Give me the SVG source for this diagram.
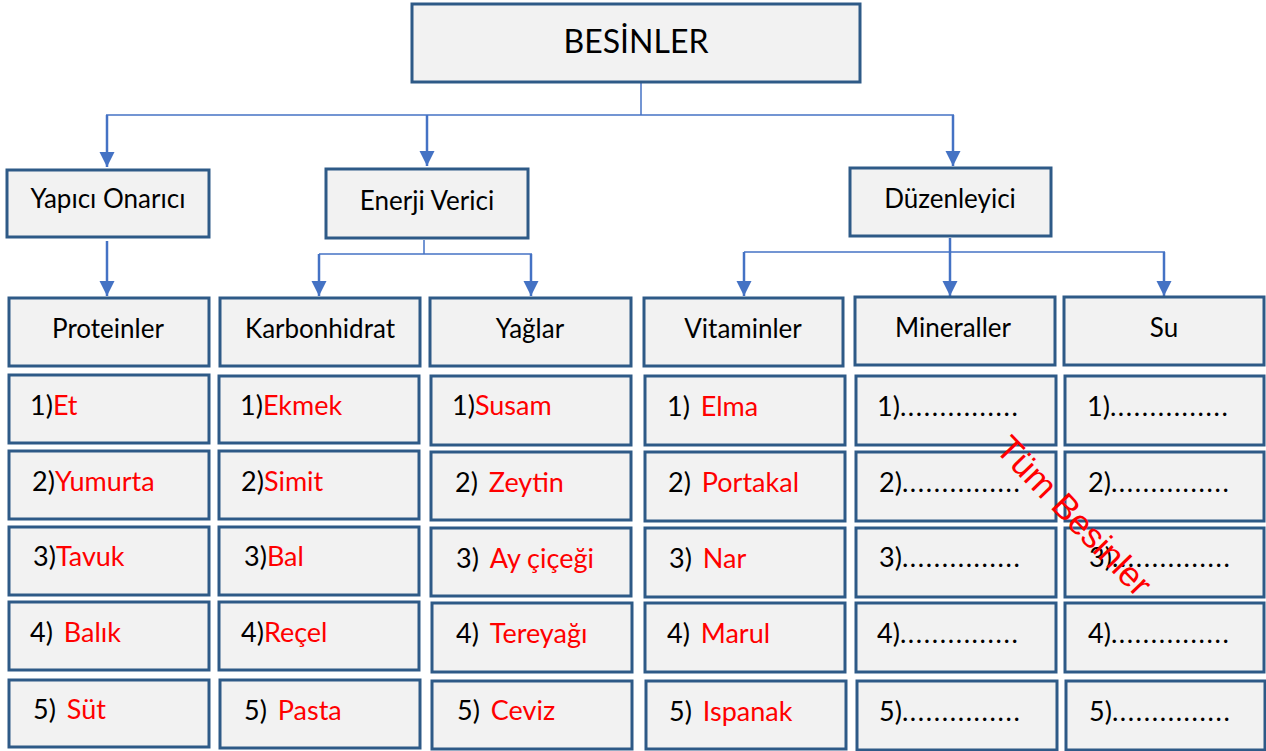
<svg xmlns="http://www.w3.org/2000/svg" width="1266" height="751" viewBox="0 0 1266 751">
<style>
.box{fill:#f2f2f2;stroke:#2e5a87;stroke-width:3}
.t{font-family:Lato,"Noto Sans","Liberation Sans",sans-serif;fill:#000}
.h{font-size:26px;text-anchor:middle}
.it{font-size:27px;word-spacing:4px}
.r{fill:#ff0000;word-spacing:0}
.d{letter-spacing:1.6px}
.thin{fill:none;stroke:#4472c4;stroke-width:1.5}
.arr{fill:none;stroke:#4472c4;stroke-width:2.5;marker-end:url(#ah)}
</style>
<defs>
<marker id="ah" markerUnits="userSpaceOnUse" markerWidth="16" markerHeight="16" refX="15" refY="7.5" orient="auto">
<path d="M0,0 L15,7.5 L0,15 z" fill="#4472c4"/>
</marker>
</defs>
<rect width="1266" height="751" fill="#fff"/>
<g id="connectors">
<path class="thin" d="M641,82 V115"/>
<path class="thin" d="M106,115 H954"/>
<path class="arr" d="M107,115 V167"/>
<path class="arr" d="M427,115 V166"/>
<path class="arr" d="M953,115 V166"/>
<path class="arr" d="M107,241 V296"/>
<path class="thin" d="M424,240 V254"/>
<path class="thin" d="M319,254 H532"/>
<path class="arr" d="M319,254 V296"/>
<path class="arr" d="M531,254 V296"/>
<path class="thin" d="M744,252 H1165"/>
<path class="arr" d="M950,238 V296"/>
<path class="arr" d="M744,252 V296"/>
<path class="arr" d="M1164,252 V296"/>
</g>
<g id="besinler"><rect class="box" x="412" y="4" width="448" height="78"/><text class="t" x="636" y="53" font-size="32" text-anchor="middle">BESİNLER</text></g>
<g id="yapici"><rect class="box" x="7" y="170" width="202" height="67"/><text class="t h" x="108" y="208">Yapıcı Onarıcı</text></g>
<g id="enerji"><rect class="box" x="326" y="169" width="202" height="69"/><text class="t h" x="427" y="210" font-size="28">Enerji Verici</text></g>
<g id="duzenleyici"><rect class="box" x="850" y="168" width="201" height="68"/><text class="t h" x="950" y="208">Düzenleyici</text></g>

<g id="proteinler"><rect class="box" x="9" y="298" width="200" height="68"/><text class="t h" x="108" y="338">Proteinler</text></g>
<g id="karbonhidrat"><rect class="box" x="220" y="298" width="200" height="68"/><text class="t h" x="320" y="338" font-size="27">Karbonhidrat</text></g>
<g id="yaglar"><rect class="box" x="430" y="298" width="201" height="68"/><text class="t h" x="530" y="338">Yağlar</text></g>
<g id="vitaminler"><rect class="box" x="644" y="298" width="199" height="68"/><text class="t h" x="743" y="338">Vitaminler</text></g>
<g id="mineraller"><rect class="box" x="855" y="297" width="200" height="68"/><text class="t h" x="953" y="337">Mineraller</text></g>
<g id="su"><rect class="box" x="1064" y="297" width="200" height="68"/><text class="t h" x="1164" y="337">Su</text></g>

<g id="p1"><rect class="box" x="9" y="375" width="200" height="68"/><text class="t it" x="30" y="415">1)<tspan class="r">Et</tspan></text></g>
<g id="p2"><rect class="box" x="9" y="451" width="200" height="68"/><text class="t it" x="32" y="491">2)<tspan class="r">Yumurta</tspan></text></g>
<g id="p3"><rect class="box" x="9" y="527" width="200" height="68"/><text class="t it" x="33" y="566">3)<tspan class="r">Tavuk</tspan></text></g>
<g id="p4"><rect class="box" x="9" y="602" width="200" height="68"/><text class="t it" x="30" y="642">4) <tspan class="r">Balık</tspan></text></g>
<g id="p5"><rect class="box" x="9" y="680" width="200" height="67"/><text class="t it" x="33" y="719">5) <tspan class="r">Süt</tspan></text></g>

<g id="k1"><rect class="box" x="219" y="376" width="200" height="67"/><text class="t it" x="240" y="415">1)<tspan class="r">Ekmek</tspan></text></g>
<g id="k2"><rect class="box" x="219" y="451" width="200" height="68"/><text class="t it" x="241" y="491">2)<tspan class="r">Simit</tspan></text></g>
<g id="k3"><rect class="box" x="219" y="527" width="200" height="68"/><text class="t it" x="244" y="566">3)<tspan class="r">Bal</tspan></text></g>
<g id="k4"><rect class="box" x="219" y="602" width="200" height="68"/><text class="t it" x="241" y="642">4)<tspan class="r">Reçel</tspan></text></g>
<g id="k5"><rect class="box" x="220" y="680" width="200" height="68"/><text class="t it" x="244" y="720">5) <tspan class="r">Pasta</tspan></text></g>

<g id="y1"><rect class="box" x="431" y="376" width="200" height="69"/><text class="t it" x="452" y="415">1)<tspan class="r">Susam</tspan></text></g>
<g id="y2"><rect class="box" x="431" y="452" width="200" height="68"/><text class="t it" x="455" y="492">2) <tspan class="r">Zeytin</tspan></text></g>
<g id="y3"><rect class="box" x="431" y="528" width="200" height="68"/><text class="t it" x="456" y="568">3) <tspan class="r">Ay çiçeği</tspan></text></g>
<g id="y4"><rect class="box" x="432" y="603" width="200" height="69"/><text class="t it" x="456" y="643">4) <tspan class="r">Tereyağı</tspan></text></g>
<g id="y5"><rect class="box" x="432" y="681" width="200" height="68"/><text class="t it" x="457" y="720">5) <tspan class="r">Ceviz</tspan></text></g>

<g id="v1"><rect class="box" x="645" y="376" width="200" height="69"/><text class="t it" x="667" y="416">1) <tspan class="r">Elma</tspan></text></g>
<g id="v2"><rect class="box" x="645" y="452" width="200" height="69"/><text class="t it" x="668" y="492">2) <tspan class="r">Portakal</tspan></text></g>
<g id="v3"><rect class="box" x="645" y="528" width="200" height="69"/><text class="t it" x="669" y="568">3) <tspan class="r">Nar</tspan></text></g>
<g id="v4"><rect class="box" x="645" y="603" width="200" height="69"/><text class="t it" x="667" y="643">4) <tspan class="r">Marul</tspan></text></g>
<g id="v5"><rect class="box" x="646" y="681" width="200" height="68"/><text class="t it" x="669" y="721">5) <tspan class="r">Ispanak</tspan></text></g>

<g id="m1"><rect class="box" x="856" y="376" width="200" height="69"/><text class="t it" x="877" y="416">1)<tspan class="d">...............</tspan></text></g>
<g id="m2"><rect class="box" x="856" y="452" width="200" height="69"/><text class="t it" x="879" y="492">2)<tspan class="d">...............</tspan></text></g>
<g id="m3"><rect class="box" x="856" y="528" width="200" height="69"/><text class="t it" x="879" y="567">3)<tspan class="d">...............</tspan></text></g>
<g id="m4"><rect class="box" x="856" y="603" width="200" height="69"/><text class="t it" x="877" y="643">4)<tspan class="d">...............</tspan></text></g>
<g id="m5"><rect class="box" x="857" y="681" width="200" height="69"/><text class="t it" x="879" y="721">5)<tspan class="d">...............</tspan></text></g>

<g id="s1"><rect class="box" x="1065" y="376" width="199" height="69"/><text class="t it" x="1087" y="416">1)<tspan class="d">...............</tspan></text></g>
<g id="s2"><rect class="box" x="1065" y="452" width="199" height="69"/><text class="t it" x="1088" y="492">2)<tspan class="d">...............</tspan></text></g>
<g id="s3"><rect class="box" x="1065" y="528" width="199" height="69"/><text class="t it" x="1089" y="567">3)<tspan class="d">...............</tspan></text></g>
<g id="s4"><rect class="box" x="1065" y="603" width="199" height="69"/><text class="t it" x="1088" y="643">4)<tspan class="d">...............</tspan></text></g>
<g id="s5"><rect class="box" x="1066" y="681" width="199" height="69"/><text class="t it" x="1089" y="721">5)<tspan class="d">...............</tspan></text></g>

<text x="994" y="450" transform="rotate(46 994 450)" font-family="'Liberation Sans',Arial,sans-serif" font-size="35" fill="#ff0000">Tüm Besinler</text>
</svg>
